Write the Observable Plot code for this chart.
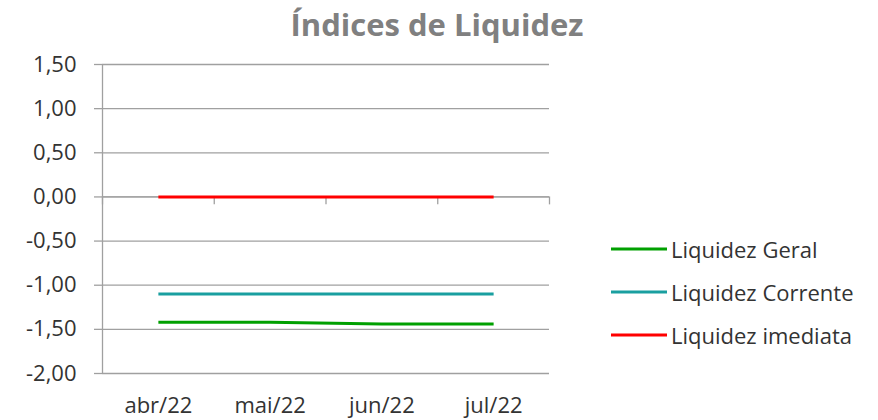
<!DOCTYPE html>
<html>
<head>
<meta charset="utf-8">
<script src="https://cdn.jsdelivr.net/npm/d3@7"></script>
<script src="https://cdn.jsdelivr.net/npm/@observablehq/plot@0.6"></script>
<style>
  html, body { margin: 0; padding: 0; background: #fff; }
  #wrap { position: relative; width: 878px; height: 420px; font-family: "Open Sans", sans-serif; }
  #title { position: absolute; left: 0; width: 874px; top: 3px; text-align: center; font-size: 31px; font-weight: 700; color: #808080; line-height: 42px; }
  #legend { position: absolute; left: 611px; top: 227px; }
  .row { display: flex; align-items: center; height: 43px; font-size: 22px; color: #333; }
  .row svg { margin-right: 4px; }
</style>
</head>
<body>
<div id="wrap">
  <div id="chart"></div>
  <div id="title">Índices de Liquidez</div>
  <div id="legend"></div>
</div>
<script>
const categories = ["abr/22", "mai/22", "jun/22", "jul/22"];
const seriesNames = ["Liquidez Geral", "Liquidez Corrente", "Liquidez imediata"];
const liquidezGeral = [-1.42, -1.42, -1.44, -1.44];
const liquidezCorrente = [-1.10, -1.10, -1.10, -1.10];
const liquidezImediata = [0.00, 0.00, 0.00, 0.00];
const yTicks = [1.5, 1.0, 0.5, 0, -0.5, -1.0, -1.5, -2.0];
const colors = ["#00a000", "#1a9fa0", "#ff0000"];

const seriesValues = [liquidezGeral, liquidezCorrente, liquidezImediata];
const rows = [];
seriesNames.forEach((s, k) => seriesValues[k].forEach((v, i) => rows.push({series: s, i, v})));
const boundaries = d3.range(categories.length + 1).map(i => i - 0.5);
const gray = "#a0a0a0";
const fmt = d => d3.format(".2f")(d).replace(".", ",").replace("−", "-");

const chart = Plot.plot({
  width: 878,
  height: 420,
  marginLeft: 102,
  marginRight: 329,
  marginTop: 64,
  marginBottom: 47,
  style: {fontFamily: "Open Sans, sans-serif", fontSize: "22px", color: "#333", overflow: "visible"},
  x: {domain: [-0.5, categories.length - 0.5]},
  y: {domain: [-2, 1.5]},
  color: {domain: seriesNames, range: colors},
  marks: [
    Plot.gridY(yTicks, {stroke: gray, strokeOpacity: 1, strokeWidth: 1.3}),
    Plot.axisY(yTicks, {tickSize: 8, tickPadding: 18, stroke: gray, strokeWidth: 1.3, tickFormat: fmt, label: null, fill: "#333"}),
    Plot.axisX(d3.range(categories.length), {tickSize: 0, tickPadding: 24, tickFormat: i => categories[i], label: null, fill: "#333"}),
    Plot.ruleX([boundaries[0]], {stroke: gray, strokeWidth: 1.3}),
    Plot.ruleY([0], {stroke: gray, strokeWidth: 1.3}),
    Plot.ruleX(boundaries, {y1: 0, y2: -0.09, stroke: gray, strokeWidth: 1.3}),
    Plot.line(rows, {x: "i", y: "v", z: "series", stroke: "series", strokeWidth: 3, strokeLinecap: "butt"})
  ]
});
document.getElementById("chart").appendChild(chart);

const legend = document.getElementById("legend");
seriesNames.forEach((s, k) => {
  const row = document.createElement("div");
  row.className = "row";
  row.innerHTML = `<svg width="56" height="6"><line x1="0" x2="56" y1="3" y2="3" stroke="${colors[k]}" stroke-width="3"/></svg><span>${s}</span>`;
  legend.appendChild(row);
});
</script>
</body>
</html>
